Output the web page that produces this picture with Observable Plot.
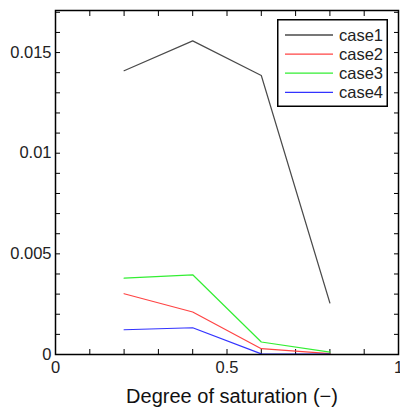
<!DOCTYPE html>
<html><head><meta charset="utf-8">
<script src="https://cdn.jsdelivr.net/npm/d3@7"></script>
<script src="https://cdn.jsdelivr.net/npm/@observablehq/plot@0.6"></script>
<style>
body{margin:0;background:#fff;font-family:"Liberation Sans",Arial,sans-serif}
#wrap{position:relative;width:400px;height:411px;overflow:hidden}
#legend{position:absolute;left:277px;top:19px}
</style></head>
<body><div id="wrap"><div id="legend"></div></div>
<script>
const xs = [0.2, 0.4, 0.6, 0.8];
const seriesNames = ["case1", "case2", "case3", "case4"];
const case1 = [0.0141, 0.01558, 0.01386, 0.00256];
const case2 = [0.00302, 0.00211, 0.00029, 0.00004];
const case3 = [0.00379, 0.00396, 0.00062, 0.00012];
const case4 = [0.00123, 0.00133, 0.00003, 0.00002];
const colors = ["#4a4a4a", "#ff4444", "#33ee33", "#3333ff"];
const xTicks = [0, 0.1, 0.2, 0.3, 0.4, 0.5, 0.6, 0.7, 0.8, 0.9, 1];
const xLabelTicks = [0, 0.5, 1];
const yTicks = d3.range(0, 18).map(i => i / 1000);
const yLabelTicks = [0, 0.005, 0.01, 0.015];
const yLabels = ["0", "0.005", "0.01", "0.015"];

const allSeries = [case1, case2, case3, case4];
const rows = [];
allSeries.forEach((vals, si) => vals.forEach((v, i) => rows.push({x: xs[i], y: v, s: seriesNames[si]})));

const chart = Plot.plot({
  width: 400, height: 411,
  marginLeft: 55, marginRight: 2, marginTop: 10, marginBottom: 57,
  style: {fontFamily: "'Liberation Sans', Arial, sans-serif", fontSize: "16px", background: "#fff"},
  x: {domain: [0, 1]},
  y: {domain: [0, 0.01709]},
  color: {domain: seriesNames, range: colors},
  marks: [
    Plot.axisX(xTicks, {anchor: "bottom", tickSize: -5, tickFormat: () => "", label: null}),
    Plot.axisX(xTicks, {anchor: "top", tickSize: -5, tickFormat: () => "", label: null}),
    Plot.axisY(yTicks, {anchor: "left", tickSize: -5, tickFormat: () => "", label: null}),
    Plot.axisY(yTicks, {anchor: "right", tickSize: -5, tickFormat: () => "", label: null}),
    Plot.axisX(xLabelTicks, {anchor: "bottom", tickSize: 0, tickPadding: 7, tickFormat: d => String(d), fontSize: 16.5, fill: "#222", label: null}),
    Plot.axisY(yLabelTicks, {anchor: "left", tickSize: 0, tickPadding: 4, tickFormat: d => yLabels[yLabelTicks.indexOf(d)], fontSize: 16.5, fill: "#222", label: null}),
    Plot.line(rows, {x: "x", y: "y", z: "s", stroke: "s", strokeWidth: 1.2}),
    Plot.frame({stroke: "#000", strokeWidth: 1.5}),
    Plot.text(["Degree of saturation (−)"], {frameAnchor: "bottom", dx: 5, dy: 48, fontSize: 20, fill: "#111", letterSpacing: "0.7px"})
  ]
});
document.getElementById("wrap").prepend(chart);

// legend
const lw = 111, lh = 88;
const leg = d3.select("#legend").append("svg").attr("width", lw).attr("height", lh);
leg.append("rect").attr("x", 0.75).attr("y", 0.75).attr("width", lw - 1.5).attr("height", lh - 1.5)
  .attr("fill", "#fff").attr("stroke", "#000").attr("stroke-width", 1.5);
seriesNames.forEach((n, i) => {
  const cy = 16 + i * 19.1;
  leg.append("line").attr("x1", 8).attr("x2", 56).attr("y1", cy).attr("y2", cy)
    .attr("stroke", colors[i]).attr("stroke-width", 1.3);
  leg.append("text").attr("x", 62).attr("y", cy).attr("dy", "0.35em")
    .attr("font-family", "'Liberation Sans', Arial, sans-serif").attr("font-size", 16.5).attr("fill", "#222").text(n);
});
</script>
</body></html>
